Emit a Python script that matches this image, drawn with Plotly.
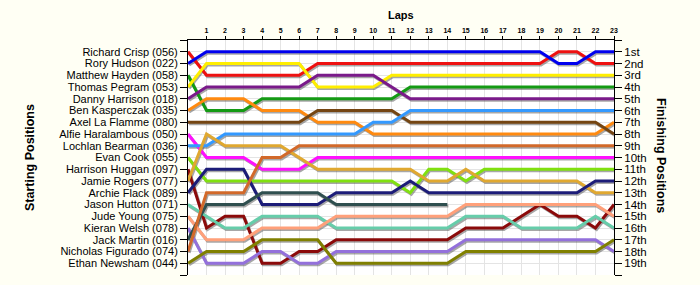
import plotly.graph_objects as go

laps = list(range(0, 24))

drivers = [
    "Richard Crisp (056)", "Rory Hudson (022)", "Matthew Hayden (058)", "Thomas Pegram (053)",
    "Danny Harrison (018)", "Ben Kasperczak (035)", "Axel La Flamme (080)", "Alfie Haralambous (050)",
    "Lochlan Bearman (036)", "Evan Cook (055)", "Harrison Huggan (097)", "Jamie Rogers (077)",
    "Archie Flack (089)", "Jason Hutton (071)", "Jude Young (075)", "Kieran Welsh (078)",
    "Jack Martin (016)", "Nicholas Figurado (074)", "Ethan Newsham (044)",
]

finish_labels = ["1st", "2nd", "3rd", "4th", "5th", "6th", "7th", "8th", "9th", "10th",
                 "11th", "12th", "13th", "14th", "15th", "16th", "17th", "18th", "19th"]

colors = [
    "#EE1111", "#0000EE", "#149A14", "#FFEE00", "#7A1A8A", "#FF8A10", "#744512",
    "#FF10FF", "#3399FF", "#80E010", "#8B0A0A", "#E0A830", "#1C1C78", "#66CDAA",
    "#FFA07A", "#9370DB", "#2F4F4F", "#D2692A", "#808000",
]

N = None
positions = [
    # Richard Crisp
    [1, 3, 3, 3, 3, 3, 3, 2, 2, 2, 2, 2, 2, 2, 2, 2, 2, 2, 2, 2, 1, 1, 2, 2],
    # Rory Hudson
    [2, 1, 1, 1, 1, 1, 1, 1, 1, 1, 1, 1, 1, 1, 1, 1, 1, 1, 1, 1, 2, 2, 1, 1],
    # Matthew Hayden
    [3, 6, 6, 6, 5, 5, 5, 5, 5, 5, 5, 5, 4, 4, 4, 4, 4, 4, 4, 4, 4, 4, 4, 4],
    # Thomas Pegram
    [4, 2, 2, 2, 2, 2, 2, 4, 4, 4, 4, 3, 3, 3, 3, 3, 3, 3, 3, 3, 3, 3, 3, 3],
    # Danny Harrison
    [5, 4, 4, 4, 4, 4, 4, 3, 3, 3, 3, 4, 5, 5, 5, 5, 5, 5, 5, 5, 5, 5, 5, 5],
    # Ben Kasperczak
    [6, 5, 5, 5, 6, 6, 6, 7, 7, 7, 8, 8, 8, 8, 8, 8, 8, 8, 8, 8, 8, 8, 8, 7],
    # Axel La Flamme
    [7, 7, 7, 7, 7, 7, 7, 6, 6, 6, 6, 6, 7, 7, 7, 7, 7, 7, 7, 7, 7, 7, 7, 8],
    # Alfie Haralambous
    [8, 10, 10, 10, 11, 11, 11, 10, 10, 10, 10, 10, 10, 10, 10, 10, 10, 10, 10, 10, 10, 10, 10, 10],
    # Lochlan Bearman
    [9, 9, 8, 8, 8, 8, 8, 8, 8, 8, 7, 7, 6, 6, 6, 6, 6, 6, 6, 6, 6, 6, 6, 6],
    # Evan Cook
    [10, 12, 12, 12, 12, 12, 12, 12, 12, 12, 12, 12, 13, 11, 11, 12, 11, 11, 11, 11, 11, 11, 11, 11],
    # Harrison Huggan
    [11, 16, 15, 15, 19, 19, 18, 18, 17, 17, 17, 17, 17, 17, 17, 16, 16, 16, 15, 14, 15, 15, 16, 14],
    # Jamie Rogers
    [12, 8, 9, 9, 9, 9, 10, 11, 11, 11, 11, 11, 11, 12, 12, 11, 12, 12, 12, 12, 12, 12, 13, 13],
    # Archie Flack
    [13, 11, 11, 11, 14, 14, 14, 14, 13, 13, 13, 13, 12, 13, 13, 13, 13, 13, 13, 13, 13, 13, 12, 12],
    # Jason Hutton
    [14, 15, 16, 16, 15, 15, 15, 15, 16, 16, 16, 16, 16, 16, 16, 15, 15, 15, 16, 16, 16, 16, 15, 16],
    # Jude Young
    [15, 17, 17, 17, 16, 16, 16, 16, 15, 15, 15, 15, 15, 15, 15, 14, 14, 14, 14, 14, 14, 14, 14, 15],
    # Kieran Welsh
    [16, 19, 19, 19, 18, 18, 19, 19, 18, 18, 18, 18, 18, 18, 18, 17, 17, 17, 17, 17, 17, 17, 17, 18],
    # Jack Martin
    [17, 14, 14, 14, 13, 13, 13, 13, 14, 14, 14, 14, 14, 14, 14, N, N, N, N, N, N, N, N, N],
    # Nicholas Figurado
    [18, 13, 13, 13, 10, 10, 9, 9, 9, 9, 9, 9, 9, 9, 9, 9, 9, 9, 9, 9, 9, 9, 9, 9],
    # Ethan Newsham
    [19, 18, 18, 18, 17, 17, 17, 17, 19, 19, 19, 19, 19, 19, 19, 18, 18, 18, 18, 18, 18, 18, 18, 17],
]

fig = go.Figure()

# drop shadows (offset copies of each series)
dx, dy = 0.06, 0.12
for name, pos in zip(drivers, positions):
    fig.add_trace(go.Scatter(
        x=[l + dx for l in laps],
        y=[p + dy if p is not None else None for p in pos],
        mode="lines", line=dict(color="rgba(80,80,80,0.5)", width=3),
        hoverinfo="skip", showlegend=False))

for name, pos, c in zip(drivers, positions, colors):
    fig.add_trace(go.Scatter(
        x=laps, y=pos, mode="lines", name=name,
        line=dict(color=c, width=3), showlegend=False))

# invisible trace to anchor right axis
fig.add_trace(go.Scatter(x=[0], y=[0], yaxis="y2", mode="markers",
                         marker=dict(opacity=0), hoverinfo="skip", showlegend=False))

yvals = list(range(0, 21))
grid = "#E4E4E4"
L, R, T, B = 188, 86, 40, 10
W, H = 700, 285
pw, ph = W - L - R, H - T - B


def px_to_paper(x, y):
    return (x - L) / pw, (H - y - B) / ph


ax_laps = px_to_paper(401, 15)
ax_start = px_to_paper(30, 158)
ax_fin = px_to_paper(661, 155)

fig.update_layout(
    width=W, height=H,
    margin=dict(l=L, r=R, t=T, b=B),
    paper_bgcolor="#FFFFF4",
    plot_bgcolor="#FFFFFF",
    font=dict(family="Liberation Sans, Arial, sans-serif", color="#000000"),
    xaxis=dict(
        range=[0, 23], side="top", tickvals=list(range(1, 24)),
        ticktext=[str(i) for i in range(1, 24)],
        tickfont=dict(size=7, weight="bold"),
        showgrid=True, gridcolor=grid, gridwidth=1,
        showline=True, linecolor="#000000", linewidth=1,
        ticks="outside", ticklen=3, tickcolor="#000000",
        zeroline=False, fixedrange=True,
    ),
    yaxis=dict(
        range=[20, 0], tickvals=yvals,
        ticktext=[""] + drivers + [""],
        tickfont=dict(size=11),
        showgrid=True, gridcolor=grid, gridwidth=1,
        showline=True, linecolor="#000000", linewidth=1,
        ticks="outside", ticklen=7, tickcolor="#000000",
        zeroline=False,
    ),
    yaxis2=dict(
        range=[20, 0], tickvals=yvals, overlaying="y", side="right",
        ticktext=[""] + finish_labels + [""],
        tickfont=dict(size=11.5),
        showgrid=False,
        showline=True, linecolor="#000000", linewidth=1,
        ticks="outside", ticklen=7, tickcolor="#000000",
        zeroline=False,
    ),
    annotations=[
        dict(text="<b>Laps</b>", x=ax_laps[0], y=ax_laps[1], xref="paper", yref="paper",
             xanchor="center", yanchor="middle", showarrow=False, font=dict(size=11)),
        dict(text="<b>Starting Positions</b>", x=ax_start[0], y=ax_start[1],
             xref="paper", yref="paper", xanchor="center", yanchor="middle",
             textangle=-90, showarrow=False, font=dict(size=12.5)),
        dict(text="<b>Finishing Positions</b>", x=ax_fin[0], y=ax_fin[1],
             xref="paper", yref="paper", xanchor="center", yanchor="middle",
             textangle=90, showarrow=False, font=dict(size=12.5)),
    ],
)

fig.write_html("out.html")
